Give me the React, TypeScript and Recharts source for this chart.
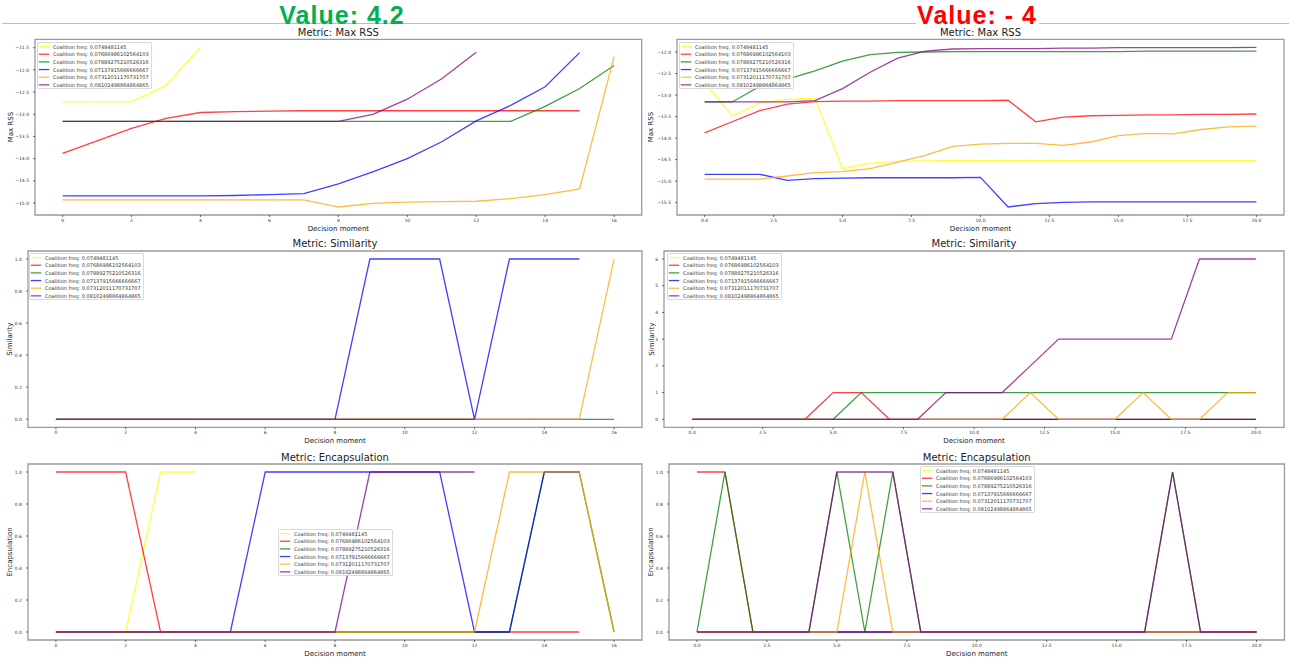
import React from 'react';
import { LineChart, Line, XAxis, YAxis, ReferenceArea, Legend } from 'recharts';

const FONT = "'DejaVu Sans', 'Liberation Sans', sans-serif";

// ---------- categories ----------
const decisionMomentsLeft = [0, 1, 2, 3, 4, 5, 6, 7, 8, 9, 10, 11, 12, 13, 14, 15, 16];
const decisionMomentsRight = [0, 1, 2, 3, 4, 5, 6, 7, 8, 9, 10, 11, 12, 13, 14, 15, 16, 17, 18, 19, 20];

const coalitionLabels = [
  'Coalition freq: 0.0749481145',
  'Coalition freq: 0.07686986102564103',
  'Coalition freq: 0.07889275210526316',
  'Coalition freq: 0.07137915666666667',
  'Coalition freq: 0.07312011170731707',
  'Coalition freq: 0.08102498864864865',
];
const seriesColors = ['#ffff00', '#ff0000', '#008000', '#0000ff', '#ffa500', '#800080'];

// ---------- tick labels ----------
const xTicksLeft = [0, 2, 4, 6, 8, 10, 12, 14, 16];
const xTicksRight = [0, 2.5, 5, 7.5, 10, 12.5, 15, 17.5, 20];
const rssTicksLeft = [-15, -14.5, -14, -13.5, -13, -12.5, -12, -11.5];
const rssTicksRight = [-15.5, -15, -14.5, -14, -13.5, -13, -12.5, -12];
const unitTicks = [0, 0.2, 0.4, 0.6, 0.8, 1.0];
const simTicksRight = [0, 1, 2, 3, 4, 5, 6];

// ---------- Max RSS (left: Value 4.2) ----------
const rssLeftYellow = [-12.72, -12.72, -12.72, -12.35, -11.49];
const rssLeftRed = [-13.88, -13.6, -13.32, -13.09, -12.96, -12.94, -12.93, -12.92, -12.92, -12.92, -12.92, -12.92, -12.92, -12.92, -12.92, -12.92];
const rssLeftGreen = [-13.16, -13.16, -13.16, -13.16, -13.16, -13.16, -13.16, -13.16, -13.16, -13.16, -13.16, -13.16, -13.16, -13.16, -12.82, -12.42, -11.9];
const rssLeftBlue = [-14.84, -14.84, -14.84, -14.84, -14.84, -14.83, -14.81, -14.79, -14.57, -14.3, -14.0, -13.62, -13.15, -12.8, -12.38, -11.61];
const rssLeftOrange = [-14.93, -14.93, -14.93, -14.93, -14.93, -14.93, -14.93, -14.93, -15.09, -15.01, -14.98, -14.97, -14.96, -14.9, -14.81, -14.68, -11.7];
const rssLeftPurple = [-13.16, -13.16, -13.16, -13.16, -13.16, -13.16, -13.16, -13.16, -13.16, -13.0, -12.66, -12.2, -11.6];

// ---------- Max RSS (right: Value -4) ----------
const rssRightYellow = [-12.72, -13.48, -13.19, -13.1, -13.07, -14.71, -14.58, -14.54, -14.53, -14.52, -14.52, -14.52, -14.52, -14.52, -14.52, -14.52, -14.52, -14.52, -14.52, -14.52, -14.52];
const rssRightRed = [-13.88, -13.62, -13.36, -13.21, -13.15, -13.14, -13.14, -13.13, -13.13, -13.13, -13.13, -13.12, -13.62, -13.51, -13.48, -13.47, -13.46, -13.46, -13.45, -13.45, -13.44];
const rssRightGreen = [-13.16, -13.16, -12.8, -12.63, -12.44, -12.21, -12.06, -12.01, -12.0, -11.99, -11.99, -11.99, -11.99, -11.99, -11.99, -11.99, -11.98, -11.98, -11.98, -11.98, -11.98];
const rssRightBlue = [-14.84, -14.84, -14.84, -14.98, -14.94, -14.93, -14.92, -14.92, -14.92, -14.92, -14.91, -15.6, -15.52, -15.49, -15.48, -15.48, -15.48, -15.48, -15.48, -15.48, -15.48];
const rssRightOrange = [-14.95, -14.95, -14.95, -14.88, -14.8, -14.78, -14.71, -14.56, -14.4, -14.19, -14.14, -14.12, -14.12, -14.17, -14.09, -13.94, -13.89, -13.9, -13.8, -13.74, -13.72];
const rssRightPurple = [-13.16, -13.16, -13.16, -13.16, -13.13, -12.85, -12.47, -12.14, -11.98, -11.93, -11.92, -11.92, -11.92, -11.91, -11.91, -11.9, -11.9, -11.9, -11.9, -11.9, -11.89];

// ---------- Similarity ----------
const simLeftYellow = [0, 0, 0, 0, 0];
const simLeftRed = [0, 0, 0, 0, 0, 0, 0, 0, 0, 0, 0, 0, 0, 0, 0, 0];
const simLeftGreen = [0, 0, 0, 0, 0, 0, 0, 0, 0, 0, 0, 0, 0, 0, 0, 0, 0];
const simLeftBlue = [0, 0, 0, 0, 0, 0, 0, 0, 0, 1, 1, 1, 0, 1, 1, 1];
const simLeftOrange = [0, 0, 0, 0, 0, 0, 0, 0, 0, 0, 0, 0, 0, 0, 0, 0, 1];
const simLeftPurple = [0, 0, 0, 0, 0, 0, 0, 0, 0, 0, 0, 0, 0];

const simRightYellow = [0, 0, 0, 0, 0, 0, 0, 0, 0, 0, 0, 0, 0, 0, 0, 0, 0, 0, 0, 0, 0];
const simRightRed = [0, 0, 0, 0, 0, 1, 1, 0, 0, 0, 0, 0, 0, 0, 0, 0, 0, 0, 0, 0, 0];
const simRightGreen = [0, 0, 0, 0, 0, 0, 1, 1, 1, 1, 1, 1, 1, 1, 1, 1, 1, 1, 1, 1, 1];
const simRightBlue = [0, 0, 0, 0, 0, 0, 0, 0, 0, 0, 0, 0, 0, 0, 0, 0, 0, 0, 0, 0, 0];
const simRightOrange = [0, 0, 0, 0, 0, 0, 0, 0, 0, 0, 0, 0, 1, 0, 0, 0, 1, 0, 0, 1, 1];
const simRightPurple = [0, 0, 0, 0, 0, 0, 0, 0, 0, 1, 1, 1, 2, 3, 3, 3, 3, 3, 6, 6, 6];

// ---------- Encapsulation ----------
const encLeftYellow = [0, 0, 0, 1, 1];
const encLeftRed = [1, 1, 1, 0, 0, 0, 0, 0, 0, 0, 0, 0, 0, 0, 0, 0];
const encLeftGreen = [0, 0, 0, 0, 0, 0, 0, 0, 0, 0, 0, 0, 0, 0, 1, 1, 0];
const encLeftBlue = [0, 0, 0, 0, 0, 0, 1, 1, 1, 1, 1, 1, 0, 0, 1, 1];
const encLeftOrange = [0, 0, 0, 0, 0, 0, 0, 0, 0, 0, 0, 0, 0, 1, 1, 1, 0];
const encLeftPurple = [0, 0, 0, 0, 0, 0, 0, 0, 0, 1, 1, 1, 1];

const encRightYellow = [0, 0, 0, 0, 0, 0, 0, 0, 0, 0, 0, 0, 0, 0, 0, 0, 0, 0, 0, 0, 0];
const encRightRed = [1, 1, 0, 0, 0, 0, 0, 0, 0, 0, 0, 0, 0, 0, 0, 0, 0, 0, 0, 0, 0];
const encRightGreen = [0, 1, 0, 0, 0, 1, 0, 1, 0, 0, 0, 0, 0, 0, 0, 0, 0, 1, 0, 0, 0];
const encRightBlue = [0, 0, 0, 0, 0, 0, 0, 0, 0, 0, 0, 0, 0, 0, 0, 0, 0, 0, 0, 0, 0];
const encRightOrange = [0, 0, 0, 0, 0, 0, 1, 0, 0, 0, 0, 0, 0, 0, 0, 0, 0, 0, 0, 0, 0];
const encRightPurple = [0, 0, 0, 0, 0, 1, 1, 1, 0, 0, 0, 0, 0, 0, 0, 0, 0, 1, 0, 0, 0];

type Box = { left: number; top: number; width: number; height: number };
type Frame = { l: number; t: number; r: number; b: number };

type PanelProps = {
  box: Box;
  frame: Frame;
  xs: number[];
  series: number[][];
  xTicks: number[];
  xDecimals: number;
  yTicks: number[];
  yDecimals: number;
  title: string;
  titleY: number;
  yLabel: string;
  yLabelX: number;
  xLabelY: number;
  legendPos: { left: number; top: number };
};

const fmt = (d: number) => (v: number) => {
  const s = Number(v).toFixed(d);
  return s.replace('-', '\u2212');
};

const LEGEND_W = 115;
const LEGEND_H = 47;

function LegendBox() {
  return (
    <svg width={LEGEND_W} height={LEGEND_H} style={{ display: 'block' }}>
      <rect x={0.4} y={0.4} width={LEGEND_W - 0.8} height={LEGEND_H - 0.8} rx={1.5} fill="#ffffff" fillOpacity={0.85} stroke="#cccccc" strokeWidth={0.8} />
      {coalitionLabels.map((lab, i) => {
        const cy = 4.6 + i * 7.65;
        return (
          <g key={lab}>
            <line x1={1.8} x2={12.3} y1={cy} y2={cy} stroke={seriesColors[i]} strokeOpacity={0.75} strokeWidth={1.3} />
            <text x={16} y={cy} dominantBaseline="central" fontSize={5} fontFamily={FONT} fill="#333333">
              {lab}
            </text>
          </g>
        );
      })}
    </svg>
  );
}

function Panel(p: PanelProps) {
  const { box, frame } = p;
  const rows = p.xs.map((x, i) => {
    const r: Record<string, number | null> = { x };
    p.series.forEach((s, k) => {
      r['s' + k] = i < s.length ? s[i] : null;
    });
    return r;
  });
  const xMin = Math.min(...p.xs);
  const xMax = Math.max(...p.xs);
  const xPad = (xMax - xMin) * 0.05;
  const vals = p.series.flat();
  const yMin = Math.min(...vals);
  const yMax = Math.max(...vals);
  const yPad = (yMax - yMin) * 0.05;
  const xDomain: [number, number] = [xMin - xPad, xMax + xPad];
  const yDomain: [number, number] = [yMin - yPad, yMax + yPad];

  const marginTop = frame.t - box.top;
  const marginRight = box.left + box.width - frame.r;
  const yAxisWidth = frame.l - box.left;
  const xAxisHeight = box.top + box.height - frame.b;
  const plotCx = (frame.l + frame.r) / 2 - box.left;
  const plotCy = (frame.t + frame.b) / 2 - box.top;
  const yLabX = p.yLabelX - box.left;
  const xLabY = p.xLabelY - box.top;

  return (
    <>
      <div
        style={{
          position: 'absolute',
          left: plotCx + box.left - 200,
          width: 400,
          top: p.titleY - 7,
          height: 14,
          lineHeight: '14px',
          textAlign: 'center',
          fontFamily: FONT,
          fontSize: 10,
          color: '#222222',
          whiteSpace: 'nowrap',
        }}
      >
        {p.title}
      </div>
      <div style={{ position: 'absolute', left: box.left, top: box.top }}>
        <LineChart
          width={box.width}
          height={box.height}
          data={rows}
          margin={{ top: marginTop, right: marginRight, bottom: 0, left: 0 }}
        >
          <XAxis
            type="number"
            dataKey="x"
            domain={xDomain}
            ticks={p.xTicks}
            allowDataOverflow
            interval={0}
            height={xAxisHeight}
            axisLine={false}
            tickLine={{ stroke: '#444444', strokeWidth: 0.8 }}
            tickSize={2}
            tickMargin={2}
            tick={{ fontSize: 4.5, fill: '#333333', fontFamily: FONT }}
            tickFormatter={fmt(p.xDecimals)}
            label={{
              value: 'Decision moment',
              content: () => (
                <text x={plotCx} y={xLabY} textAnchor="middle" dominantBaseline="central" fontSize={7} fontFamily={FONT} fill="#222222">
                  Decision moment
                </text>
              ),
            }}
          />
          <YAxis
            type="number"
            domain={yDomain}
            ticks={p.yTicks}
            allowDataOverflow
            interval={0}
            width={yAxisWidth}
            axisLine={false}
            tickLine={{ stroke: '#444444', strokeWidth: 0.8 }}
            tickSize={2}
            tickMargin={4}
            tick={{ fontSize: 4.5, fill: '#333333', fontFamily: FONT }}
            tickFormatter={fmt(p.yDecimals)}
            label={{
              value: p.yLabel,
              content: () => (
                <text
                  x={yLabX}
                  y={plotCy}
                  textAnchor="middle"
                  dominantBaseline="central"
                  fontSize={7}
                  fontFamily={FONT}
                  fill="#222222"
                  transform={`rotate(-90 ${yLabX} ${plotCy})`}
                >
                  {p.yLabel}
                </text>
              ),
            }}
          />
          {p.series.map((s, k) => (
            <Line
              key={'s' + k}
              type="linear"
              dataKey={'s' + k}
              name={coalitionLabels[k]}
              stroke={seriesColors[k]}
              strokeOpacity={0.75}
              strokeWidth={1.3}
              dot={false}
              activeDot={false}
              connectNulls={false}
              isAnimationActive={false}
            />
          ))}
          <ReferenceArea
            x1={xDomain[0]}
            x2={xDomain[1]}
            y1={yDomain[0]}
            y2={yDomain[1]}
            fill="none"
            fillOpacity={0}
            stroke="#9a9a9a"
            strokeWidth={1.3}
            ifOverflow="visible"
          />
          <Legend
            layout="vertical"
            align="center"
            verticalAlign="middle"
            wrapperStyle={{
              left: p.legendPos.left - box.left,
              top: p.legendPos.top - box.top,
              width: LEGEND_W,
              height: LEGEND_H,
            }}
            content={() => <LegendBox />}
          />
        </LineChart>
      </div>
    </>
  );
}

const headerFont: React.CSSProperties = {
  fontFamily: "'Liberation Sans', Arial, sans-serif",
  fontWeight: 700,
  fontSize: 25,
  lineHeight: 'normal',
  letterSpacing: 1,
  whiteSpace: 'nowrap',
  textAlign: 'center',
};

export default function App() {
  return (
    <div
      style={{
        position: 'absolute',
        left: 0,
        top: 0,
        width: 1299,
        height: 666,
        background: '#ffffff',
        overflow: 'hidden',
      }}
    >
      {/* separator */}
      <div style={{ position: 'absolute', left: 2, top: 23, width: 1287, height: 1.2, background: '#bdbdbd' }} />
      <div style={{ position: 'absolute', left: 915.6, width: 123.4, top: 0, height: 24.5, background: '#ffffff' }} />
      <div style={{ ...headerFont, position: 'absolute', left: 342 - 150, width: 300, top: 0.5, color: '#00b050' }}>
        Value: 4.2
      </div>
      <div style={{ ...headerFont, position: 'absolute', left: 977 - 150, width: 300, top: 0.5, color: '#ff0000' }}>
        Value: - 4
      </div>

      <Panel
        box={{ left: 0, top: 24, width: 648, height: 212 }}
        frame={{ l: 35, t: 39.3, r: 641.7, b: 215 }}
        xs={decisionMomentsLeft}
        series={[rssLeftYellow, rssLeftRed, rssLeftGreen, rssLeftBlue, rssLeftOrange, rssLeftPurple]}
        xTicks={xTicksLeft}
        xDecimals={0}
        yTicks={rssTicksLeft}
        yDecimals={1}
        title="Metric: Max RSS"
        titleY={32.5}
        yLabel="Max RSS"
        yLabelX={11}
        xLabelY={229}
        legendPos={{ left: 37.3, top: 41.7 }}
      />
      <Panel
        box={{ left: 648, top: 24, width: 651, height: 212 }}
        frame={{ l: 677, t: 39.3, r: 1284, b: 215 }}
        xs={decisionMomentsRight}
        series={[rssRightYellow, rssRightRed, rssRightGreen, rssRightBlue, rssRightOrange, rssRightPurple]}
        xTicks={xTicksRight}
        xDecimals={1}
        yTicks={rssTicksRight}
        yDecimals={1}
        title="Metric: Max RSS"
        titleY={32.5}
        yLabel="Max RSS"
        yLabelX={651}
        xLabelY={228.5}
        legendPos={{ left: 679.3, top: 41.7 }}
      />
      <Panel
        box={{ left: 0, top: 236, width: 648, height: 212 }}
        frame={{ l: 28, t: 251, r: 642, b: 427.3 }}
        xs={decisionMomentsLeft}
        series={[simLeftYellow, simLeftRed, simLeftGreen, simLeftBlue, simLeftOrange, simLeftPurple]}
        xTicks={xTicksLeft}
        xDecimals={0}
        yTicks={unitTicks}
        yDecimals={1}
        title="Metric: Similarity"
        titleY={244.3}
        yLabel="Similarity"
        yLabelX={10.4}
        xLabelY={440.7}
        legendPos={{ left: 29, top: 252.7 }}
      />
      <Panel
        box={{ left: 648, top: 236, width: 651, height: 212 }}
        frame={{ l: 664, t: 251, r: 1284, b: 427.3 }}
        xs={decisionMomentsRight}
        series={[simRightYellow, simRightRed, simRightGreen, simRightBlue, simRightOrange, simRightPurple]}
        xTicks={xTicksRight}
        xDecimals={1}
        yTicks={simTicksRight}
        yDecimals={0}
        title="Metric: Similarity"
        titleY={244.3}
        yLabel="Similarity"
        yLabelX={652}
        xLabelY={440.7}
        legendPos={{ left: 666.6, top: 252.7 }}
      />
      <Panel
        box={{ left: 0, top: 448, width: 648, height: 218 }}
        frame={{ l: 28, t: 464, r: 642, b: 640 }}
        xs={decisionMomentsLeft}
        series={[encLeftYellow, encLeftRed, encLeftGreen, encLeftBlue, encLeftOrange, encLeftPurple]}
        xTicks={xTicksLeft}
        xDecimals={0}
        yTicks={unitTicks}
        yDecimals={1}
        title="Metric: Encapsulation"
        titleY={457.7}
        yLabel="Encapsulation"
        yLabelX={10.4}
        xLabelY={654}
        legendPos={{ left: 278, top: 529 }}
      />
      <Panel
        box={{ left: 648, top: 448, width: 651, height: 218 }}
        frame={{ l: 669, t: 464, r: 1284.5, b: 640 }}
        xs={decisionMomentsRight}
        series={[encRightYellow, encRightRed, encRightGreen, encRightBlue, encRightOrange, encRightPurple]}
        xTicks={xTicksRight}
        xDecimals={1}
        yTicks={unitTicks}
        yDecimals={1}
        title="Metric: Encapsulation"
        titleY={457.7}
        yLabel="Encapsulation"
        yLabelX={651}
        xLabelY={654}
        legendPos={{ left: 919.7, top: 465.7 }}
      />
    </div>
  );
}
